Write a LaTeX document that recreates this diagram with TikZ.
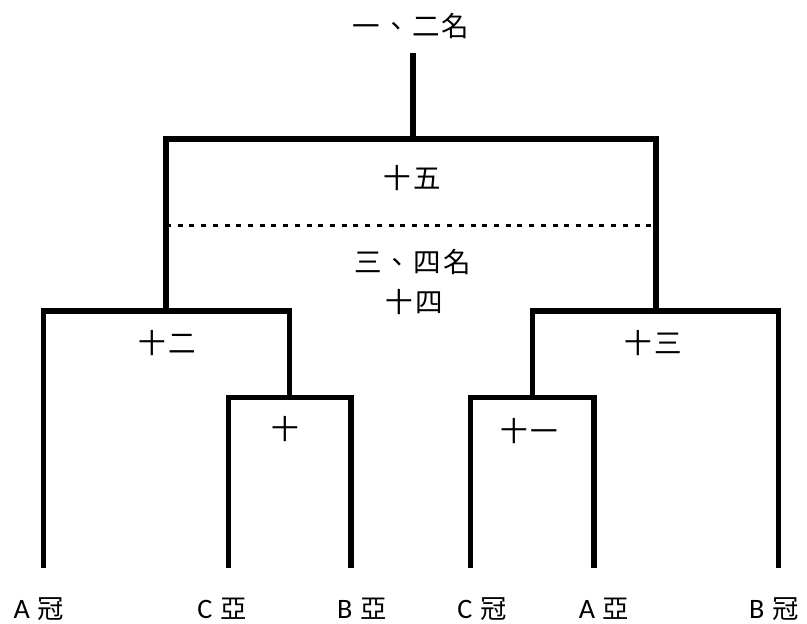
\documentclass[tikz,border=0pt]{standalone}
\usepackage{fontspec}
\setmainfont{Carlito}
\newfontfamily\cjk[LetterSpace=8]{Noto Sans CJK TC}
\usetikzlibrary{positioning}

\tikzset{
  bracket/.style={line width=4.6pt, line join=miter},
  dotline/.style={line width=3.2pt, dash pattern=on 4.2pt off 5.8pt},
  gamelabel/.style={font=\cjk\fontsize{23.5}{26}\selectfont, inner sep=0pt},
  team/.style={font=\fontsize{24}{28}\selectfont, inner sep=0pt}
}
\newcommand{\teamname}[2]{#1\hspace{0.28em}{\cjk\fontsize{22.5}{26}\selectfont #2}}

\begin{document}
\begin{tikzpicture}[x=0.03cm,y=-0.03cm]
  \useasboundingbox (0,0) rectangle (807,624);
  % tops of the six lines
  \coordinate (lA) at (43.7,568);
  \coordinate (lC) at (228.5,568);
  \coordinate (lB) at (351,568);
  \coordinate (rC) at (470.5,568);
  \coordinate (rA) at (594,568);
  \coordinate (rB) at (778.7,568);
  % joins
  \coordinate (g10) at (289.5,397.5);
  \coordinate (g11) at (532.5,397.5);
  \coordinate (g12) at (166,311);
  \coordinate (g13) at (656,311);
  \coordinate (g15) at (413,139);
  \coordinate (g0)  at (413,52.7);
  \coordinate (d1)  at (166,225.5);
  \coordinate (d2)  at (656,225.5);

  \draw[bracket] (lC) |- (g10) -| (lB);
  \draw[bracket] (rC) |- (g11) -| (rA);
  \draw[bracket] (lA) |- (g12) -| (g10);
  \draw[bracket] (g11) |- (g13) -| (rB);
  \draw[bracket] (g12) |- (g15) -| (g13);
  \draw[bracket] (g15) -- (g0);
  \draw[dotline] (d1) -- (d2);

  \node[gamelabel] (final) at (411,26)    {一、二名};
  \node[gamelabel] (m15)   at (412,178)   {十五};
  \node[gamelabel] (third) at (412.5,262) {三、四名};
  \node[gamelabel] (m14)   at (414.5,302) {十四};
  \node[gamelabel] (m12)   at (167.5,343) {十二};
  \node[gamelabel] (m13)   at (653,343)   {十三};
  \node[gamelabel] (m10)   at (285,429)   {十};
  \node[gamelabel] (m11)   at (529.5,431) {十一};

  \node[team] (tA1) at (39,609)  {\teamname{A}{冠}};
  \node[team] (tC2) at (222,609) {\teamname{C}{亞}};
  \node[team] (tB2) at (362,609) {\teamname{B}{亞}};
  \node[team] (tC1) at (482,609) {\teamname{C}{冠}};
  \node[team] (tA2) at (604,609) {\teamname{A}{亞}};
  \node[team] (tB1) at (774,609) {\teamname{B}{冠}};
\end{tikzpicture}
\end{document}
